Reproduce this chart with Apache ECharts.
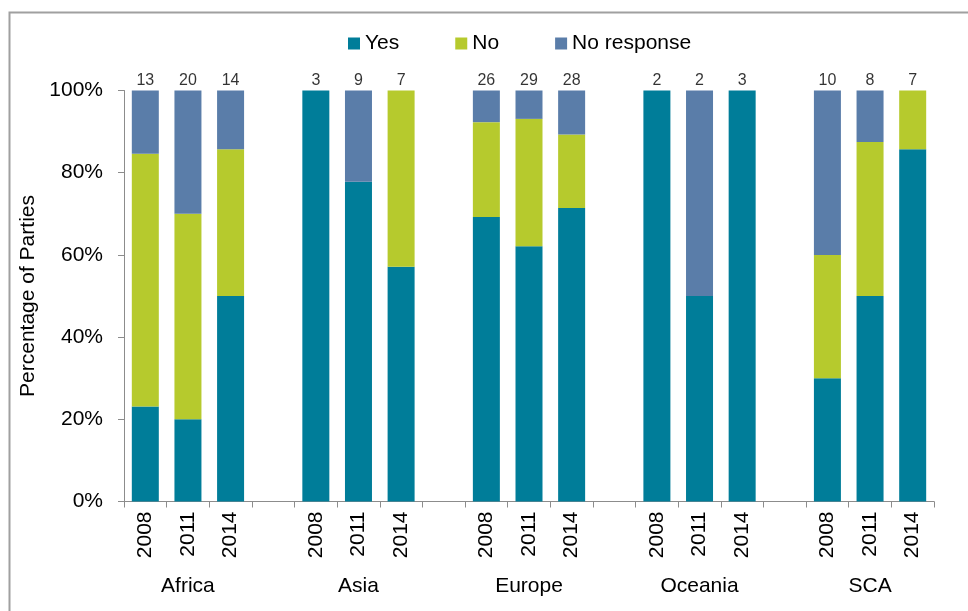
<!DOCTYPE html>
<html>
<head>
<meta charset="utf-8">
<script src="https://cdn.jsdelivr.net/npm/echarts@6/dist/echarts.min.js"></script>
<style>
  html, body { margin: 0; padding: 0; background: #ffffff; }
  #chart { width: 968px; height: 611px; }
</style>
</head>
<body>
<div id="chart"></div>
<script>
// Regions and survey years
const regions = ['Africa', 'Asia', 'Europe', 'Oceania', 'SCA'];
const years = ['2008', '2011', '2014'];

// Share of parties (%) per region, in year order 2008, 2011, 2014
const yesPct = [23.1, 20.0, 50.0,  100, 77.8, 57.1,  69.2, 62.1, 71.4,  100, 50.0, 100,  30.0, 50.0, 85.7];
const noPct  = [61.5, 50.0, 35.7,  0,   0,    42.9,  23.1, 31.0, 17.9,  0,   0,    0,    30.0, 37.5, 14.3];
const nrPct  = [15.4, 30.0, 14.3,  0,   22.2, 0,     7.7,  6.9,  10.7,  0,   50.0, 0,    40.0, 12.5, 0];

// Number of responding parties shown above each bar
const partyCounts = [13, 20, 14,  3, 9, 7,  26, 29, 28,  2, 2, 3,  10, 8, 7];

// Lay the bars out on a category axis with an empty slot between regions
const yearCats = [];
const regionCats = [];
const slotIndex = [];
regions.forEach((r, gi) => {
  years.forEach((y, yi) => {
    slotIndex.push(yearCats.length);
    yearCats.push(y);
    regionCats.push(yi === 1 ? r : '');
  });
  if (gi < regions.length - 1) { yearCats.push(' '); regionCats.push(''); }
});
function spread(values) {
  const out = yearCats.map(() => '-');
  values.forEach((v, i) => { out[slotIndex[i]] = v; });
  return out;
}

const font = 'Arial, "Liberation Sans", sans-serif';
const axisGray = '#8c8c8c';

const chart = echarts.init(document.getElementById('chart'), null, { renderer: 'canvas' });
chart.setOption({
  animation: false,
  backgroundColor: '#ffffff',
  graphic: [{
    type: 'polyline',
    silent: true,
    shape: { points: [[9.5, 620], [9.5, 12.5], [980, 12.5]] },
    style: { stroke: '#a0a0a0', lineWidth: 2, fill: null }
  }],
  legend: {
    data: ['Yes', 'No', 'No response'],
    left: 343,
    top: 28,
    icon: 'rect',
    itemWidth: 12,
    itemHeight: 12,
    itemGap: 56,
    textStyle: { fontFamily: font, fontSize: 21, color: '#000000' }
  },
  grid: { left: 124, right: 34, top: 90.5, bottom: 109.5, containLabel: false },
  xAxis: [{
    type: 'category',
    data: yearCats,
    position: 'bottom',
    axisLine: { lineStyle: { color: axisGray, width: 1 } },
    axisTick: { show: true, alignWithLabel: false, interval: 0, length: 6, lineStyle: { color: axisGray } },
    axisLabel: { interval: 0, rotate: 90, margin: 10, fontFamily: font, fontSize: 21, color: '#000000' },
    splitLine: { show: false }
  }, {
    type: 'category',
    data: regionCats,
    position: 'bottom',
    offset: 66,
    axisLine: { show: false },
    axisTick: { show: false },
    axisLabel: { interval: 0, margin: 8, fontFamily: font, fontSize: 21, color: '#000000' },
    splitLine: { show: false }
  }],
  yAxis: {
    type: 'value',
    min: 0,
    max: 100,
    interval: 20,
    name: 'Percentage of Parties',
    nameLocation: 'middle',
    nameGap: 80,
    nameTextStyle: { fontFamily: font, fontSize: 21, color: '#000000' },
    axisLine: { show: true, lineStyle: { color: axisGray, width: 1 } },
    axisTick: { show: true, length: 6, lineStyle: { color: axisGray } },
    axisLabel: { formatter: '{value}%', margin: 21, fontFamily: font, fontSize: 21, color: '#000000' },
    splitLine: { show: false }
  },
  series: [{
    name: 'Yes', type: 'bar', stack: 'share', barWidth: 27,
    itemStyle: { color: '#007d99' }, data: spread(yesPct)
  }, {
    name: 'No', type: 'bar', stack: 'share', barWidth: 27,
    itemStyle: { color: '#b6ca2d' }, data: spread(noPct)
  }, {
    name: 'No response', type: 'bar', stack: 'share', barWidth: 27,
    itemStyle: { color: '#5a7da9' }, data: spread(nrPct)
  }, {
    name: 'Parties', type: 'scatter', symbolSize: 0, silent: true,
    data: spread(partyCounts.map(c => ({ value: 100, count: c }))),
    label: {
      show: true, position: 'top', distance: 2,
      formatter: p => String(p.data.count),
      fontFamily: font, fontSize: 16, color: '#000000'
    }
  }]
});
</script>
</body>
</html>
